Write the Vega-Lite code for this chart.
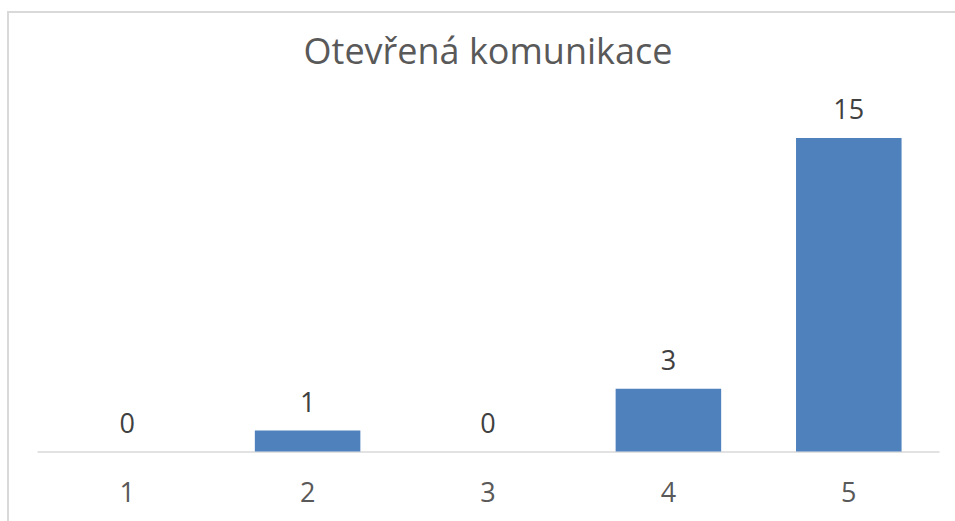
{
  "$schema": "https://vega.github.io/schema/vega-lite/v6.json",
  "autosize": {"type": "none"},
  "padding": {"left": 8, "top": 12, "right": 0, "bottom": 0},
  "width": 960,
  "height": 520,
  "background": "white",
  "config": {
    "view": {"stroke": "#d9d9d9", "strokeWidth": 2},
    "font": "Open Sans"
  },
  "title": {
    "text": "Otevřená komunikace",
    "anchor": "middle",
    "font": "Open Sans",
    "fontSize": 36,
    "fontWeight": "normal",
    "color": "#595959",
    "baseline": "alphabetic",
    "offset": -88
  },
  "data": {
    "values": [
      {"kategorie": "1", "pocet": 0},
      {"kategorie": "2", "pocet": 1},
      {"kategorie": "3", "pocet": 0},
      {"kategorie": "4", "pocet": 3},
      {"kategorie": "5", "pocet": 15}
    ]
  },
  "encoding": {
    "x": {
      "field": "kategorie",
      "type": "ordinal",
      "sort": null,
      "scale": {"range": [29, 931], "paddingInner": 0.415, "paddingOuter": 0.2075},
      "axis": {
        "title": null,
        "labelAngle": 0,
        "ticks": false,
        "domainColor": "#d9d9d9",
        "domainWidth": 1.5,
        "offset": -80.5,
        "labelFont": "Open Sans",
        "labelFontSize": 27,
        "labelColor": "#595959",
        "labelBaseline": "alphabetic",
        "labelPadding": 50,
        "grid": false
      }
    },
    "y": {
      "field": "pocet",
      "type": "quantitative",
      "scale": {"domain": [0, 15], "range": [439.5, 126], "nice": false, "zero": true},
      "axis": null
    }
  },
  "layer": [
    {"mark": {"type": "bar", "color": "#4f81bd"}},
    {
      "mark": {
        "type": "text",
        "baseline": "alphabetic",
        "dy": -19,
        "fontSize": 27,
        "font": "Open Sans",
        "color": "#404040"
      },
      "encoding": {"text": {"field": "pocet", "type": "quantitative"}}
    }
  ]
}
